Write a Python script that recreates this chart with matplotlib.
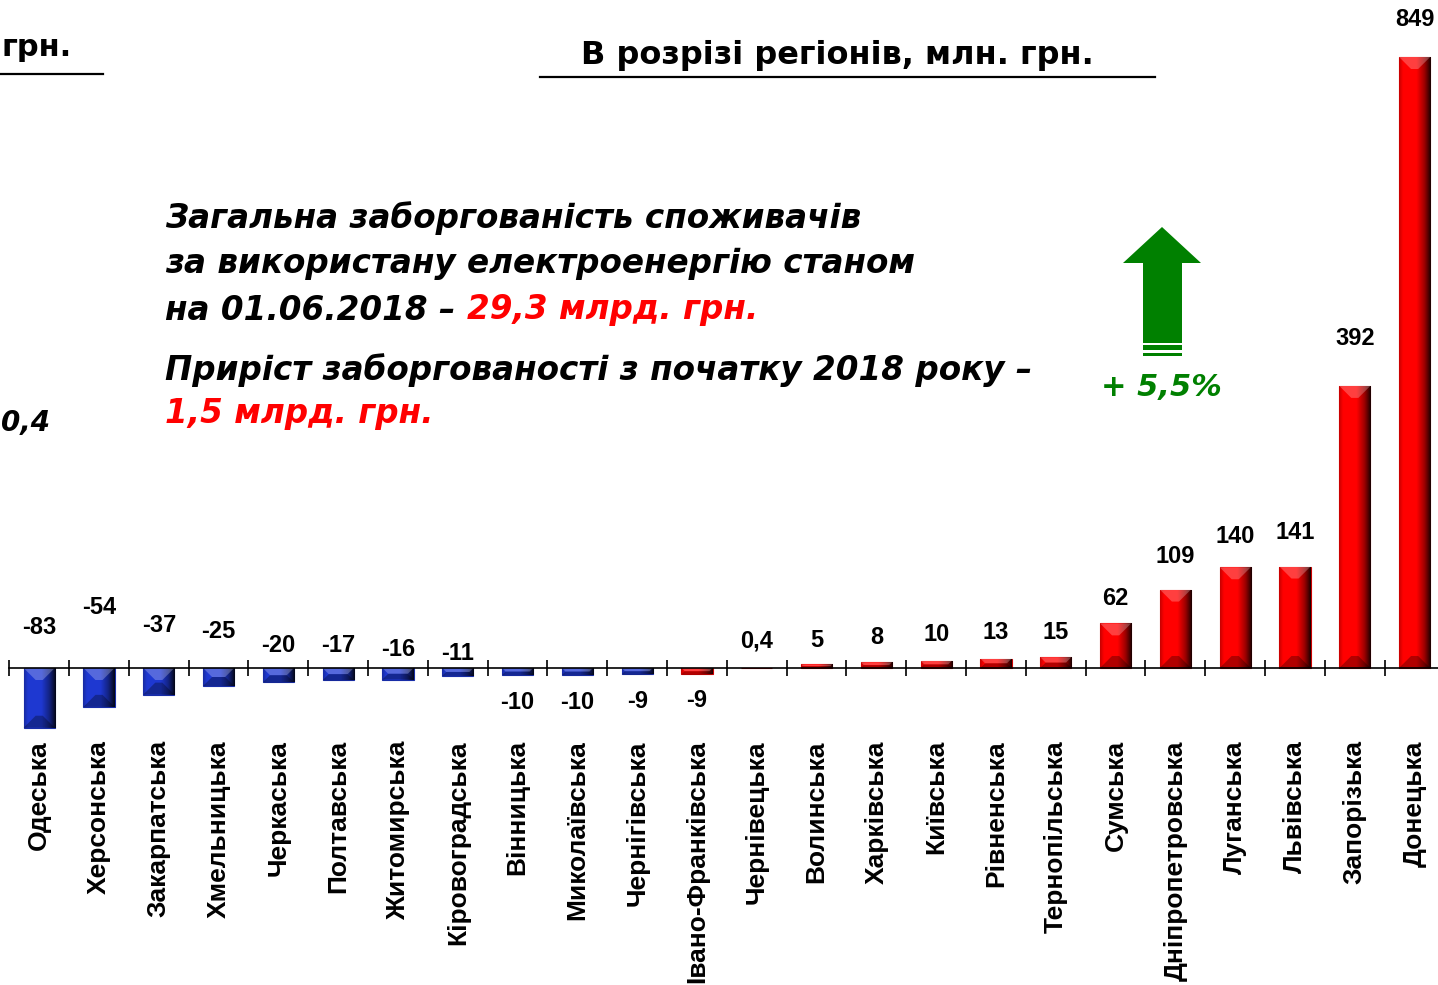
import numpy as np
import matplotlib
matplotlib.use("Agg")
import matplotlib.pyplot as plt
from matplotlib.patches import Polygon, Rectangle
from matplotlib.lines import Line2D
from matplotlib.colors import to_rgb

# Debt growth by region since start of 2018, mln UAH
regions = ["Одеська", "Херсонська", "Закарпатська", "Хмельницька", "Черкаська",
           "Полтавська", "Житомирська", "Кіровоградська", "Вінницька",
           "Миколаївська", "Чернігівська", "Івано-Франківська", "Чернівецька",
           "Волинська", "Харківська", "Київська", "Рівненська", "Тернопільська",
           "Сумська", "Дніпропетровська", "Луганська", "Львівська", "Запорізька",
           "Донецька"]
debt_growth = [-83, -54, -37, -25, -20, -17, -16, -11, -10, -10, -9, -9,
               0.4, 5, 8, 10, 13, 15, 62, 109, 140, 141, 392, 849]
n_blue = 11

# where the value labels sit (px from bar end / axis), as dragged on the slide
label_shift_px = [40, 60, 43, 36, 22, 22, 19, 15, -27, -27, -27, -26,
                  27, 24, 25, 26, 26, 25, 25, 33, 31, 34, 47, 37]

W, H = 1438, 985
plt.rcParams['font.family'] = ['Liberation Sans', 'DejaVu Sans']
wide = ['DejaVu Sans']   # the slide text is stretched wider than Arial
fig = plt.figure(figsize=(W / 100, H / 100), dpi=100)

def fx(px):
    return px / W

def fy(py):
    return 1 - py / H

step_px = 59.8
k = 849 / 611.0          # data units per pixel in y
zero_px = 668
ax = fig.add_axes([fx(9.3), 0, 24 * step_px / W, 1])
ax.set_xlim(-0.5, 23.5)
ylim = (-(H - zero_px) * k, zero_px * k)
ax.set_ylim(*ylim)

x = np.arange(len(regions))
blue = (0.12, 0.22, 0.82)
red = (1.0, 0.0, 0.0)
colors = [blue] * n_blue + [red] * (len(regions) - n_blue)
edges = [tuple(np.array(c) * 0.8) for c in colors]

bars = ax.bar(x, debt_growth, width=0.52, color=colors, edgecolor=edges,
              linewidth=0.8, zorder=2)

# fake 3D shading like the PowerPoint bars
t = np.linspace(0, 1, 64)
f = np.interp(t, [0, 0.12, 0.55, 0.8, 0.93, 1.0], [0.78, 1.0, 1.0, 0.62, 0.3, 0.1])
for b, c in zip(bars, colors):
    rgb = np.array(to_rgb(c))
    img = (rgb[None, :] * f[:, None])[None, :, :]
    x0, w = b.get_x(), b.get_width()
    ylo = min(b.get_y(), b.get_y() + b.get_height())
    yhi = max(b.get_y(), b.get_y() + b.get_height())
    im = ax.imshow(img, extent=[x0, x0 + w, ylo, yhi], aspect='auto',
                   interpolation='bilinear', zorder=3)
    im.set_clip_path(b)
    depth = min(12, (yhi - ylo) / k / 2)
    dx, dy = depth / step_px, depth * k
    ax.add_patch(Polygon([(x0, yhi), (x0 + w, yhi), (x0 + w - dx, yhi - dy), (x0 + dx, yhi - dy)],
                         closed=True, facecolor='white', alpha=0.25, lw=0, zorder=4))
    ax.add_patch(Polygon([(x0, ylo), (x0 + w, ylo), (x0 + w - dx, ylo + dy), (x0 + dx, ylo + dy)],
                         closed=True, facecolor='black', alpha=0.3, lw=0, zorder=4))

ax.set_xlim(-0.5, 23.5)
ax.set_ylim(*ylim)

for s in ['top', 'right', 'left']:
    ax.spines[s].set_visible(False)
ax.spines['bottom'].set_position(('data', 0))
ax.spines['bottom'].set_linewidth(1.2)
ax.spines['bottom'].set_zorder(5)
ax.set_yticks([])
ax.set_xticks(x)
ax.set_xticklabels(regions, rotation=90, fontsize=19, fontweight='bold')
ax.set_xticks(np.arange(-0.5, 24, 1), minor=True)
ax.tick_params(axis='x', which='major', length=0, pad=52)
ax.tick_params(axis='x', which='minor', direction='inout', length=11.5, width=1.2)
ax.patch.set_visible(False)

# value labels
for i, (v, sh) in enumerate(zip(debt_growth, label_shift_px)):
    anchor = v if (v > 0 or sh < 0) else 0
    txt = ("%g" % v).replace('.', ',')
    ax.annotate(txt, xy=(i, anchor), xytext=(0, sh * 0.72), textcoords='offset points',
                ha='center', va='center', fontsize=17, fontweight='bold', zorder=6)

# titles
fig.text(fx(837), fy(55), "В розрізі регіонів, млн. грн.", ha='center', va='center',
         fontsize=23, fontweight='bold', family=wide)
fig.add_artist(Line2D([fx(540), fx(1155)], [fy(77), fy(77)], color='black', lw=1.6))
fig.text(fx(1), fy(48), "грн.", ha='left', va='center', fontsize=22, fontweight='bold',
         family=wide)
fig.add_artist(Line2D([fx(0), fx(103)], [fy(74), fy(74)], color='black', lw=1.6))
fig.text(fx(1), fy(423), "0,4", ha='left', va='center', fontsize=20,
         fontweight='bold', style='italic', family=wide)

# note text
note = dict(fontsize=23.5, fontweight='bold', style='italic', family=wide)
fig.text(fx(165), fy(218), "Загальна заборгованість споживачів", va='center', **note)
fig.text(fx(165), fy(264), "за використану електроенергію станом", va='center', **note)
t3 = fig.text(fx(165), fy(310), "на 01.06.2018 – ", va='center', **note)
ax.annotate("29,3 млрд. грн.", xy=(1, 0), xycoords=t3, ha='left', va='bottom',
            color='red', **note)
fig.text(fx(165), fy(370), "Приріст заборгованості з початку 2018 року –", va='center', **note)
fig.text(fx(165), fy(413), "1,5 млрд. грн.", va='center', color='red', **note)

# green arrow
green = (0, 0.5, 0)
arrow_px = [(1123, 263), (1162, 227), (1201, 263), (1182, 263), (1182, 343),
            (1143, 343), (1143, 263)]
fig.add_artist(Polygon([(fx(a), fy(b)) for a, b in arrow_px], closed=True,
                       transform=fig.transFigure, facecolor=green, lw=0))
for top, bot in [(345, 350), (352.5, 355.5)]:
    fig.add_artist(Rectangle((fx(1143), fy(bot)), fx(1182) - fx(1143), fy(top) - fy(bot),
                             transform=fig.transFigure, facecolor=green, lw=0))
fig.text(fx(1161), fy(388), "+ 5,5%", ha='center', va='center', color=green,
         fontsize=22, fontweight='bold', style='italic', family=wide)

fig.savefig("out.png", dpi=100)
